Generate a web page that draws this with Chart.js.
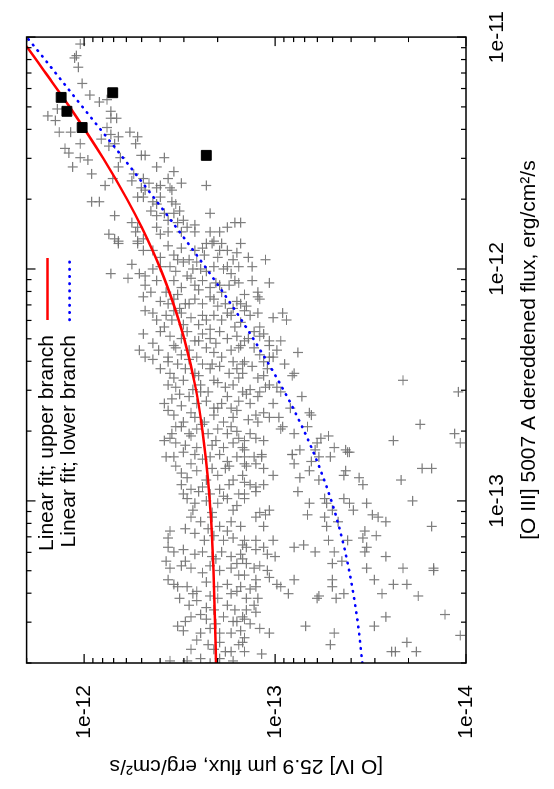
<!DOCTYPE html>
<html>
<head>
<meta charset="utf-8">
<script src="https://cdn.jsdelivr.net/npm/chart.js@4.4.0/dist/chart.umd.min.js"></script>
<style>
  html, body { margin: 0; padding: 0; background: #fff; overflow: hidden; }
  #page { width: 554px; height: 789px; position: relative; overflow: hidden; }
  /* the plot is drawn landscape and turned a quarter turn counter-clockwise */
  #rot { position: absolute; left: 0; top: 0; width: 789px; height: 554px;
         transform-origin: 0 0; transform: translate(0, 789px) rotate(-90deg); }
</style>
</head>
<body>
<div id="page"><div id="rot"><canvas id="c" width="789" height="554"></canvas></div></div>
<script>
// tick values / labels
const oiiiTickValues = [2e-14,3e-14,4e-14,5e-14,6e-14,7e-14,8e-14,9e-14,
  1e-13,2e-13,3e-13,4e-13,5e-13,6e-13,7e-13,8e-13,9e-13,
  1e-12,2e-12,3e-12,4e-12,5e-12,6e-12,7e-12,8e-12,9e-12,1e-11];
const oiiiMajorValues = [1e-13, 1e-12, 1e-11];
const oiiiMajorLabels = ['1e-13', '1e-12', '1e-11'];

const oivTickValues = [1e-14,2e-14,3e-14,4e-14,5e-14,6e-14,7e-14,8e-14,9e-14,
  1e-13,2e-13,3e-13,4e-13,5e-13,6e-13,7e-13,8e-13,9e-13,1e-12,2e-12];
const oivMajorValues = [1e-14, 1e-13, 1e-12];
const oivMajorLabels = ['1e-14', '1e-13', '1e-12'];

// linear fits, sampled along the [O III] axis
const fitOIII = [2e-14,3e-14,5e-14,7e-14,1e-13,1.5e-13,2e-13,3e-13,5e-13,7e-13,
  1e-12,1.5e-12,2e-12,3e-12,5e-12,7e-12,9e-12,1e-11];
const upperFitOIV = [2.04e-13,2.06e-13,2.10e-13,2.14e-13,2.20e-13,2.30e-13,2.40e-13,2.59e-13,2.99e-13,3.39e-13,
  3.98e-13,4.97e-13,5.96e-13,7.94e-13,1.19e-12,1.59e-12,1.98e-12,2.18e-12];
const lowerFitOIV = [3.49e-14,3.69e-14,4.09e-14,4.48e-14,5.07e-14,6.06e-14,7.04e-14,9.01e-14,1.30e-13,1.69e-13,
  2.28e-13,3.27e-13,4.25e-13,6.22e-13,1.02e-12,1.41e-12,1.80e-12,2.00e-12];

// highlighted objects: [log10 OIII, log10 OIV]
const highlighted = [[-11.26,-11.88],[-11.32,-11.91],[-11.39,-11.99],[-11.24,-12.15],[-11.51,-12.64]];

// sample: [log10 OIII flux, log10 OIV flux]
const sample = [
  [-11.03,-11.98],[-11.08,-11.96],[-11.09,-11.95],[-11.13,-11.97],[-11.20,-11.99],[-11.25,-12.03],[-11.28,-12.08],
  [-11.27,-12.12],[-11.32,-12.14],[-11.34,-11.81],[-11.36,-11.85],[-11.31,-11.86],[-11.35,-12.14],[-11.35,-12.17],
  [-11.41,-11.87],[-11.41,-11.93],[-11.46,-11.98],[-11.48,-11.90],[-11.50,-11.92],[-11.56,-11.94],[-11.52,-11.98],
  [-11.53,-12.02],[-11.59,-12.04],[-11.44,-12.09],[-11.39,-12.12],[-11.42,-12.14],[-11.43,-12.18],[-11.47,-12.13],
  [-11.46,-12.16],[-11.52,-12.19],[-11.56,-12.18],[-11.41,-12.24],[-11.43,-12.28],[-11.46,-12.27],[-11.51,-12.30],
  [-11.51,-12.32],[-11.64,-12.11],[-11.61,-12.15],[-11.71,-12.04],[-11.71,-12.08],[-11.77,-12.16],[-11.62,-12.25],
  [-11.59,-12.26],[-11.56,-12.38],[-11.52,-12.42],[-11.61,-12.31],[-11.63,-12.34],[-11.65,-12.30],[-11.66,-12.32],
  [-11.69,-12.28],[-11.69,-12.31],[-11.65,-12.38],[-11.64,-12.40],[-11.61,-12.44],[-11.58,-12.47],[-11.65,-12.45],
  [-11.66,-12.46],[-11.63,-12.51],[-11.71,-12.36],[-11.72,-12.38],[-11.69,-12.40],[-11.71,-12.46],[-11.72,-12.48],
  [-11.75,-12.50],[-11.75,-12.35],[-11.77,-12.38],[-11.76,-12.42],[-11.79,-12.44],[-11.76,-12.47],[-11.80,-12.49],
  [-11.79,-12.52],[-11.82,-12.54],[-11.81,-12.58],[-11.84,-12.58],[-11.64,-12.64],[-11.76,-12.66],[-11.84,-12.66],
  [-11.84,-12.71],[-11.82,-12.75],[-11.80,-12.79],[-11.80,-12.25],[-11.82,-12.28],[-11.84,-12.27],[-11.87,-12.31],
  [-11.82,-12.38],[-11.85,-12.40],[-11.84,-12.44],[-11.84,-12.51],[-11.85,-12.13],[-11.87,-12.16],[-11.88,-12.18],
  [-11.88,-12.28],[-11.89,-12.64],[-11.88,-12.68],[-11.89,-12.72],[-11.80,-12.82],
  [-11.89,-12.18],[-11.89,-12.28],[-11.92,-12.31],[-11.92,-12.36],[-11.90,-12.44],[-11.94,-12.47],[-11.91,-12.51],
  [-11.92,-12.58],[-11.91,-12.62],[-11.89,-12.67],[-11.92,-12.71],[-11.92,-12.75],[-11.93,-12.80],[-11.89,-12.82],
  [-11.98,-12.25],[-12.02,-12.14],[-12.04,-12.23],[-12.02,-12.29],[-12.03,-12.32],[-11.99,-12.40],[-11.99,-12.45],
  [-11.96,-12.49],[-11.97,-12.52],[-12.00,-12.57],[-11.97,-12.59],[-12.01,-12.64],[-11.99,-12.68],[-12.00,-12.73],
  [-12.02,-12.77],[-11.99,-12.81],
  [-12.07,-12.32],[-12.10,-12.43],[-12.05,-12.47],[-12.08,-12.51],[-12.03,-12.54],[-12.07,-12.58],[-12.05,-12.62],
  [-12.08,-12.66],[-12.07,-12.71],[-12.07,-12.76],[-12.06,-12.81],
  [-12.12,-12.31],[-12.15,-12.44],[-12.13,-12.47],[-12.17,-12.50],[-12.15,-12.53],[-12.13,-12.58],[-12.15,-12.62],
  [-12.12,-12.66],[-12.16,-12.70],[-12.15,-12.74],[-12.17,-12.78],[-12.15,-12.82],
  [-12.18,-12.32],[-12.22,-12.38],[-12.20,-12.43],[-12.22,-12.46],[-12.19,-12.51],[-12.21,-12.56],[-12.24,-12.60],
  [-12.22,-12.64],[-12.20,-12.68],[-12.22,-12.72],[-12.20,-12.77],[-12.23,-12.82],
  [-12.28,-12.31],[-12.27,-12.40],[-12.29,-12.45],[-12.30,-12.51],[-12.27,-12.54],[-12.31,-12.58],[-12.28,-12.62],
  [-12.30,-12.66],[-12.27,-12.71],[-12.30,-12.75],[-12.29,-12.80],[-12.31,-12.84],
  [-12.35,-12.29],[-12.38,-12.32],[-12.39,-12.36],[-12.35,-12.39],[-12.38,-12.44],[-12.34,-12.48],[-12.37,-12.51],
  [-12.35,-12.55],[-12.38,-12.59],[-12.34,-12.64],[-12.36,-12.68],[-12.38,-12.72],[-12.35,-12.77],[-12.34,-12.81],
  [-12.43,-12.40],[-12.45,-12.45],[-12.41,-12.49],[-12.43,-12.53],[-12.45,-12.58],[-12.41,-12.62],[-12.43,-12.66],
  [-12.42,-12.71],[-12.45,-12.76],[-12.43,-12.80],[-12.40,-12.84],
  [-12.50,-12.44],[-12.51,-12.48],[-12.48,-12.52],[-12.52,-12.57],[-12.50,-12.61],[-12.53,-12.65],[-12.49,-12.70],
  [-12.51,-12.74],[-12.50,-12.78],[-12.53,-12.83],
  [-12.58,-12.42],[-12.56,-12.46],[-12.59,-12.51],[-12.55,-12.55],[-12.58,-12.59],[-12.57,-12.64],[-12.60,-12.68],
  [-12.58,-12.72],[-12.60,-12.77],[-12.57,-12.81],
  [-12.63,-12.47],[-12.66,-12.52],[-12.64,-12.58],[-12.66,-12.63],[-12.63,-12.68],[-12.66,-12.73],[-12.64,-12.78],
  [-12.71,-12.46],[-12.68,-12.51],[-12.71,-12.55],[-12.69,-12.59],[-12.71,-12.65],[-12.69,-12.70],[-12.71,-12.75],
  [-12.70,-12.80],
  [-12.74,-12.42],[-12.75,-12.48],[-12.76,-12.53],[-12.77,-12.59],[-12.76,-12.67],[-12.77,-12.73],[-12.75,-12.78],
  [-12.77,-12.83],
  [-12.81,-12.43],[-12.81,-12.47],[-12.79,-12.52],[-12.80,-12.58],[-12.82,-12.62],[-12.81,-12.66],[-12.80,-12.71],
  [-12.83,-12.75],[-12.81,-12.80],[-12.84,-12.84],
  [-12.88,-12.51],[-12.90,-12.54],[-12.87,-12.59],[-12.91,-12.64],[-12.89,-12.70],[-12.86,-12.74],[-12.91,-12.78],
  [-12.89,-12.83],
  [-12.93,-12.51],[-12.95,-12.56],[-12.94,-12.62],[-12.97,-12.66],[-12.95,-12.71],[-12.93,-12.76],[-12.97,-12.81],
  [-12.99,-12.54],[-13.01,-12.58],[-13.00,-12.64],[-13.01,-12.70],[-12.99,-12.75],[-13.02,-12.80],
  [-13.07,-12.56],[-13.09,-12.61],[-13.07,-12.67],[-13.11,-12.71],[-13.09,-12.77],[-13.11,-12.82],
  [-13.13,-12.45],[-13.16,-12.44],[-13.14,-12.58],[-13.17,-12.63],[-13.15,-12.68],[-13.17,-12.73],[-13.16,-12.78],
  [-13.19,-12.83],
  [-13.20,-12.44],[-13.22,-12.47],[-13.21,-12.52],[-13.23,-12.58],[-13.22,-12.62],[-13.24,-12.67],[-13.22,-12.72],
  [-13.24,-12.77],[-13.23,-12.82],
  [-13.26,-12.43],[-13.29,-12.45],[-13.28,-12.51],[-13.29,-12.56],[-13.31,-12.62],[-13.28,-12.66],[-13.30,-12.71],
  [-13.29,-12.77],[-13.32,-12.81],
  [-13.34,-12.44],[-13.36,-12.47],[-13.37,-12.49],[-13.37,-12.54],[-13.39,-12.59],[-13.35,-12.64],[-13.37,-12.70],
  [-13.36,-12.75],[-13.39,-12.80],
  [-13.42,-12.50],[-13.45,-12.55],[-13.43,-12.59],[-13.46,-12.64],[-13.42,-12.70],[-13.45,-12.75],[-13.47,-12.79],
  [-13.50,-12.56],[-13.49,-12.61],[-13.51,-12.64],[-13.47,-12.68],[-13.50,-12.73],[-13.52,-12.78],[-13.50,-12.83],
  [-13.54,-12.49],[-13.56,-12.52],[-13.57,-12.61],[-13.55,-12.66],[-13.57,-12.71],[-13.57,-12.77],[-13.56,-12.82],
  [-13.60,-12.59],[-13.62,-12.65],[-13.61,-12.71],[-13.65,-12.77],[-13.62,-12.81],
  [-13.69,-12.45],[-13.69,-12.54],[-13.68,-12.61],[-13.70,-12.66],[-13.68,-12.71],[-13.69,-12.78],
  [-11.99,-12.88],[-12.10,-12.91],[-12.12,-12.91],[-12.13,-12.92],[-12.16,-12.85],[-12.18,-12.84],[-12.19,-12.91],
  [-12.25,-12.92],[-12.27,-12.89],[-12.28,-12.94],[-12.22,-13.06],[-12.31,-12.97],[-12.33,-12.97],[-12.35,-13.01],
  [-12.36,-13.12],[-12.34,-12.89],[-12.37,-12.92],[-12.40,-12.94],[-12.38,-12.97],[-12.38,-12.99],[-12.41,-12.83],
  [-12.45,-12.83],[-12.47,-12.91],[-12.46,-12.94],[-12.45,-13.10],[-12.46,-13.09],[-12.50,-12.97],[-12.51,-13.01],
  [-12.55,-13.14],[-12.53,-12.92],[-12.55,-12.91],[-12.54,-12.85],[-12.58,-12.87],[-12.58,-12.99],[-12.60,-13.08],
  [-12.62,-13.18],[-12.63,-13.19],[-12.63,-12.90],[-12.62,-12.94],[-12.66,-12.91],[-12.64,-13.02],[-12.68,-13.04],
  [-12.69,-13.03],[-12.71,-13.10],[-12.68,-13.17],[-12.71,-12.87],[-12.73,-12.90],[-12.74,-12.84],[-12.74,-12.94],
  [-12.73,-13.24],[-12.75,-13.22],[-12.72,-13.28],[-12.78,-13.13],[-12.80,-13.09],[-12.78,-13.21],[-12.77,-13.31],
  [-12.78,-13.37],[-12.79,-13.39],[-12.78,-12.84],[-12.80,-12.93],
  [-12.48,-13.67],[-12.67,-13.76],[-12.74,-13.62],[-12.53,-13.96],[-12.71,-13.94],[-12.75,-13.97],
  [-12.81,-12.84],[-12.81,-12.89],[-12.81,-12.93],[-12.85,-12.85],[-12.84,-12.90],[-12.86,-12.94],[-12.89,-12.99],
  [-12.92,-12.84],[-12.93,-12.87],[-12.94,-12.90],[-12.93,-12.94],[-12.96,-12.90],[-12.99,-12.84],[-13.05,-12.92],
  [-13.07,-12.90],[-13.06,-12.95],[-13.04,-12.97],[-13.11,-12.94],[-13.17,-12.84],[-13.17,-12.90],[-13.17,-12.99],
  [-13.20,-12.85],[-13.21,-12.90],[-13.20,-12.94],[-13.23,-12.96],[-13.24,-13.00],[-13.25,-12.83],[-13.27,-12.85],
  [-13.29,-12.89],[-13.28,-12.92],[-13.30,-12.96],[-13.32,-12.84],[-13.34,-12.90],[-13.37,-12.82],[-13.38,-12.87],
  [-13.37,-12.90],[-13.33,-12.97],[-13.36,-13.01],[-13.37,-13.03],[-13.40,-13.07],[-13.42,-12.85],[-13.45,-12.89],
  [-13.42,-12.91],[-13.47,-12.85],[-13.48,-12.90],[-13.51,-12.84],[-13.53,-12.87],[-13.55,-12.92],[-13.57,-12.97],
  [-13.59,-12.84],[-13.61,-12.83],[-13.65,-12.84],[-13.66,-12.93],
  [-12.80,-13.09],[-12.84,-13.10],[-12.83,-13.19],[-12.81,-13.23],[-12.81,-13.29],[-12.79,-13.38],[-12.90,-13.13],
  [-12.87,-13.18],[-12.91,-13.23],[-12.89,-13.36],[-12.87,-13.37],[-12.90,-13.44],[-12.93,-13.46],[-12.96,-13.12],
  [-13.01,-13.18],[-12.99,-13.26],[-13.01,-13.27],[-13.04,-13.30],[-12.99,-13.36],[-13.01,-13.39],[-13.01,-13.48],
  [-13.04,-13.41],[-13.06,-13.17],[-13.07,-13.26],[-13.09,-13.33],[-13.11,-13.27],[-13.13,-13.47],[-13.16,-13.46],
  [-13.17,-13.28],[-13.17,-13.38],[-13.15,-13.53],[-13.19,-13.15],[-13.20,-13.10],[-13.22,-13.21],[-13.22,-13.31],
  [-13.22,-13.47],[-13.20,-13.48],[-13.24,-13.58],[-13.27,-13.30],[-13.26,-13.35],[-13.29,-13.48],[-13.34,-13.52],
  [-13.34,-13.10],[-13.34,-13.30],[-13.37,-13.30],[-13.40,-13.36],[-13.41,-13.23],[-13.42,-13.22],[-13.42,-13.32],
  [-13.40,-13.56],[-13.36,-13.62],[-13.36,-13.69],[-13.50,-13.58],[-13.54,-13.52],[-13.54,-13.16],[-13.57,-13.31],
  [-13.62,-13.29],
  [-12.91,-13.66],[-13.00,-13.72],[-12.86,-13.77],[-12.86,-13.82],[-13.11,-13.82],[-13.29,-13.67],[-13.30,-13.83],
  [-13.29,-13.83],[-13.41,-13.75],[-13.49,-13.89],[-13.58,-13.97],[-13.61,-13.69],[-13.65,-13.74],[-13.65,-13.61],
  [-13.65,-13.63],[-13.06,-13.51],[-13.07,-13.54],[-13.09,-13.58],
  // denser core of the upper branch
  [-11.95,-12.40],[-11.96,-12.55],[-11.94,-12.63],[-11.95,-12.70],[-11.96,-12.78],
  [-12.00,-12.36],[-12.01,-12.48],[-12.00,-12.61],[-11.99,-12.75],
  [-12.05,-12.38],[-12.04,-12.56],[-12.06,-12.69],[-12.05,-12.79],
  [-12.10,-12.35],[-12.11,-12.49],[-12.09,-12.60],[-12.10,-12.72],[-12.11,-12.84],
  [-12.14,-12.40],[-12.15,-12.55],[-12.13,-12.68],[-12.14,-12.80],
  [-12.19,-12.36],[-12.18,-12.47],[-12.20,-12.62],[-12.19,-12.75],
  [-12.25,-12.42],[-12.24,-12.52],[-12.26,-12.66],[-12.25,-12.79],
  [-12.32,-12.36],[-12.33,-12.47],[-12.31,-12.60],[-12.32,-12.69],[-12.33,-12.82],
  [-12.40,-12.44],[-12.39,-12.55],[-12.41,-12.67],[-12.40,-12.78],
  [-12.47,-12.47],[-12.46,-12.60],[-12.48,-12.68],[-12.47,-12.81],
  [-12.54,-12.50],[-12.53,-12.61],[-12.55,-12.75],
  [-12.61,-12.44],[-12.62,-12.56],[-12.60,-12.70],[-12.61,-12.80],
  [-12.68,-12.48],[-12.67,-12.62],[-12.68,-12.77],
  [-12.73,-12.45],[-12.72,-12.56],[-12.74,-12.69],[-12.73,-12.81],
  [-12.85,-12.48],[-12.84,-12.56],[-12.86,-12.67],[-12.85,-12.76],
  [-12.97,-12.52],[-12.96,-12.60],[-12.98,-12.73],[-12.97,-12.84],
  [-13.04,-12.57],[-13.05,-12.67],[-13.04,-12.78],
  [-13.12,-12.53],[-13.12,-12.65],[-13.13,-12.75],
  [-13.26,-12.53],[-13.25,-12.69],[-13.27,-12.80],
  [-13.40,-12.57],[-13.41,-12.66],[-13.40,-12.77],
  [-13.52,-12.53],[-13.53,-12.69],[-13.52,-12.80],
  [-13.64,-12.56],[-13.64,-12.68],[-13.65,-12.74],
  // crowding along the lower-branch fit
  [-11.95,-12.86],[-11.96,-12.95],[-12.05,-12.88],[-12.06,-12.97],
  [-12.20,-12.87],[-12.21,-12.99],[-12.19,-13.04],
  [-12.30,-12.86],[-12.29,-12.92],[-12.31,-13.03],
  [-12.42,-12.88],[-12.43,-12.96],[-12.41,-13.05],
  [-12.52,-12.87],[-12.51,-12.95],[-12.53,-13.03],
  [-12.65,-12.86],[-12.64,-12.97]
];

const FONT = '"Liberation Sans", Arial, Helvetica, sans-serif';

function findMajor(values, v) {
  return values.findIndex(m => Math.abs(m - v) / m < 1e-6);
}

const toPoints = pairs => pairs.map(([a, b]) => ({ x: Math.pow(10, a), y: Math.pow(10, b) }));

// gnuplot style border with inward ticks on all four sides
const frameTicks = {
  id: 'frameTicks',
  afterDatasetsDraw(chart) {
    const { ctx, chartArea: a, scales: { x, y } } = chart;
    ctx.save();
    ctx.strokeStyle = '#000';
    ctx.lineWidth = 1.2;
    ctx.beginPath();
    x.ticks.forEach(t => {
      const px = x.getPixelForValue(t.value);
      const len = findMajor(oiiiMajorValues, t.value) >= 0 ? 9 : 5;
      ctx.moveTo(px, a.bottom); ctx.lineTo(px, a.bottom - len);
      ctx.moveTo(px, a.top); ctx.lineTo(px, a.top + len);
    });
    y.ticks.forEach(t => {
      const py = y.getPixelForValue(t.value);
      const len = findMajor(oivMajorValues, t.value) >= 0 ? 9 : 5;
      ctx.moveTo(a.left, py); ctx.lineTo(a.left + len, py);
      ctx.moveTo(a.right, py); ctx.lineTo(a.right - len, py);
    });
    ctx.stroke();
    ctx.lineWidth = 1.5;
    ctx.strokeRect(a.left, a.top, a.right - a.left, a.bottom - a.top);
    ctx.restore();
  }
};

// key for the two fits: text right-justified, sample line after it
const fitKey = {
  id: 'fitKey',
  afterDraw(chart) {
    const { ctx, chartArea: a } = chart;
    ctx.save();
    ctx.font = '21px ' + FONT;
    ctx.fillStyle = '#000';
    ctx.textAlign = 'right';
    ctx.textBaseline = 'middle';
    [1, 2].forEach((di, row) => {
      const ds = chart.data.datasets[di];
      const yy = a.top + 21 + row * 22;
      ctx.fillText(ds.label, a.left + 328, yy);
      ctx.beginPath();
      ctx.strokeStyle = ds.borderColor;
      ctx.lineWidth = ds.borderWidth;
      ctx.lineCap = ds.borderCapStyle || 'butt';
      ctx.setLineDash(ds.borderDash || []);
      ctx.moveTo(a.left + 343, yy);
      ctx.lineTo(a.left + 405, yy);
      ctx.stroke();
    });
    ctx.restore();
  }
};

new Chart(document.getElementById('c'), {
  type: 'scatter',
  data: {
    datasets: [
      {
        label: 'highlighted',
        data: toPoints(highlighted),
        pointStyle: 'rect',
        pointRadius: 7,
        backgroundColor: '#000',
        borderColor: '#000',
        borderWidth: 1,
        order: 0
      },
      {
        label: 'Linear fit; upper branch',
        data: fitOIII.map((v, i) => ({ x: v, y: upperFitOIV[i] })),
        showLine: true,
        borderColor: '#ff0000',
        borderWidth: 2.5,
        pointRadius: 0,
        cubicInterpolationMode: 'monotone',
        order: 1
      },
      {
        label: 'Linear fit; lower branch',
        data: fitOIII.map((v, i) => ({ x: v, y: lowerFitOIV[i] })),
        showLine: true,
        borderColor: '#0000ff',
        borderWidth: 2.6,
        borderDash: [0.6, 6.6],
        borderCapStyle: 'round',
        pointRadius: 0,
        cubicInterpolationMode: 'monotone',
        order: 2
      },
      {
        label: 'sample',
        data: toPoints(sample),
        pointStyle: 'cross',
        pointRadius: 5,
        borderColor: 'rgba(112,112,112,0.9)',
        borderWidth: 1.2,
        order: 3
      }
    ]
  },
  options: {
    responsive: false,
    animation: false,
    events: [],
    devicePixelRatio: 1,
    layout: { padding: { top: 26, right: 36, bottom: 0, left: 0 } },
    plugins: { legend: { display: false }, tooltip: { enabled: false } },
    scales: {
      x: {
        type: 'logarithmic',
        position: 'bottom',
        min: 2e-14,
        max: 1e-11,
        grid: { display: false },
        border: { display: false },
        afterBuildTicks: s => { s.ticks = oiiiTickValues.map(v => ({ value: v })); },
        afterFit: s => { s.height = 88; },
        ticks: {
          autoSkip: false,
          maxRotation: 0,
          padding: 11,
          color: '#000',
          font: { family: FONT, size: 21 },
          callback: v => { const i = findMajor(oiiiMajorValues, v); return i < 0 ? '' : oiiiMajorLabels[i]; }
        },
        title: {
          display: true,
          text: '[O III] 5007 A dereddened flux, erg/cm\u00B2/s',
          color: '#000',
          font: { family: FONT, size: 21 },
          padding: { top: 0, bottom: 12 }
        }
      },
      y: {
        type: 'logarithmic',
        position: 'left',
        min: 1e-14,
        max: 2e-12,
        grid: { display: false },
        border: { display: false },
        afterBuildTicks: s => { s.ticks = oivTickValues.map(v => ({ value: v })); },
        afterFit: s => { s.width = 126; },
        ticks: {
          autoSkip: false,
          padding: 14,
          color: '#000',
          font: { family: FONT, size: 21 },
          callback: v => { const i = findMajor(oivMajorValues, v); return i < 0 ? '' : oivMajorLabels[i]; }
        },
        title: {
          display: true,
          text: '[O IV] 25.9 \u03BCm flux, erg/cm\u00B2/s',
          color: '#000',
          font: { family: FONT, size: 21 },
          padding: { top: 11, bottom: 0 }
        }
      }
    }
  },
  plugins: [frameTicks, fitKey]
});
</script>
</body>
</html>
